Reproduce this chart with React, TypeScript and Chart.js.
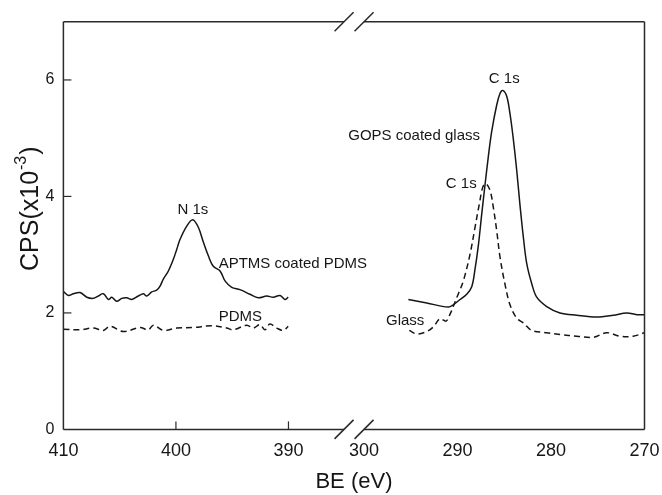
import React, { useEffect, useRef } from "react";
import { Chart, registerables } from "chart.js";

Chart.register(...registerables);

const FONT = "'Liberation Sans', Arial, Helvetica, sans-serif";
const INK = "#161616";

// Axis definition (broken binding-energy axis: 410-390 | 300-270)
const X_TICKS = [410, 400, 390, 300, 290, 280, 270];
const X_INNER_TICKS = [400, 390];
const Y_TICKS = [0, 2, 4, 6];
const BREAK_BE = 300;

// APTMS coated PDMS (solid)
const APTMS_BE = [410, 409.56, 409.11, 408.52, 407.92, 407.34, 406.89, 406.45, 406.0, 405.7, 405.26, 404.81, 404.37, 403.93, 403.34, 402.9, 402.59, 402.15, 401.71, 401.41, 401.12, 400.67, 400.23, 399.93, 399.64, 399.04, 398.51, 398.01, 397.57, 397.12, 396.68, 396.08, 395.64, 395.04, 394.31, 393.42, 392.68, 391.94, 391.35, 390.75, 390.31, 390.02];
const APTMS_CPS = [2.37, 2.30, 2.33, 2.35, 2.27, 2.25, 2.29, 2.33, 2.23, 2.27, 2.20, 2.25, 2.26, 2.23, 2.29, 2.33, 2.29, 2.36, 2.39, 2.46, 2.58, 2.72, 2.92, 3.09, 3.26, 3.49, 3.60, 3.47, 3.22, 2.98, 2.80, 2.72, 2.55, 2.44, 2.40, 2.32, 2.26, 2.29, 2.27, 2.30, 2.23, 2.27];

// PDMS (dashed)
const PDMS_BE = [410, 408.52, 407.34, 406.45, 405.85, 404.67, 403.19, 402.45, 402.0, 401.12, 399.93, 398.45, 396.68, 395.49, 394.9, 393.71, 393.13, 392.53, 392.09, 391.65, 391.05, 390.46, 390.02];
const PDMS_CPS = [1.72, 1.71, 1.74, 1.70, 1.77, 1.68, 1.75, 1.71, 1.79, 1.70, 1.74, 1.75, 1.78, 1.74, 1.71, 1.79, 1.74, 1.80, 1.71, 1.81, 1.74, 1.70, 1.77];

// GOPS coated glass (solid)
const GOPS_BE = [295.26, 293.29, 290.98, 290.45, 289.73, 289.02, 288.48, 288.13, 287.78, 287.41, 287.06, 286.71, 286.34, 285.81, 285.45, 285.17, 284.74, 284.39, 284.03, 283.67, 283.32, 282.96, 282.6, 282.06, 281.53, 280.46, 279.04, 277.25, 275.11, 273.34, 271.9, 270.83, 270];
const GOPS_CPS = [2.23, 2.17, 2.10, 2.14, 2.23, 2.32, 2.45, 2.75, 3.15, 3.70, 4.20, 4.68, 5.12, 5.57, 5.77, 5.82, 5.72, 5.42, 4.98, 4.45, 3.85, 3.30, 2.85, 2.50, 2.27, 2.11, 2.00, 1.96, 1.93, 1.96, 2.00, 1.97, 1.97];

// Glass (dashed)
const GLASS_BE = [295.16, 294.36, 293.29, 292.59, 291.87, 291.23, 290.8, 290.09, 289.38, 288.66, 288.13, 287.67, 287.3, 286.98, 286.52, 286.17, 285.81, 285.45, 284.92, 284.39, 283.67, 282.96, 282.06, 280.46, 279.04, 277.25, 275.48, 274.04, 272.62, 271.2, 270];
const GLASS_CPS = [1.70, 1.64, 1.68, 1.76, 1.90, 1.86, 1.98, 2.26, 2.55, 3.01, 3.47, 3.87, 4.16, 4.22, 4.10, 3.81, 3.41, 2.95, 2.49, 2.14, 1.91, 1.83, 1.70, 1.66, 1.63, 1.60, 1.58, 1.66, 1.60, 1.60, 1.66];

// Text annotations (BE, CPS of the text centre line)
const NOTE_TEXT = ["N 1s", "APTMS coated PDMS", "PDMS", "GOPS coated glass", "C 1s", "C 1s", "Glass"];
const NOTE_BE = [398.5, 396.2, 396.2, 287.6, 285.0, 289.6, 295.6];
const NOTE_CPS = [3.79, 2.86, 1.96, 5.06, 6.04, 4.24, 1.88];
const NOTE_ALIGN: CanvasTextAlign[] = ["center", "left", "left", "right", "center", "center", "center"];

// broken-axis transform: BE -> axis units (0..100)
const LEFT_END_U = 38.73;
const RIGHT_START_U = 51.74;
function toU(be: number): number {
  if (be > 340) return ((410 - be) / 20) * LEFT_END_U;
  return RIGHT_START_U + ((300 - be) / 30) * (100 - RIGHT_START_U);
}
function fromU(u: number): number {
  if (u < 45) return 410 - (u / LEFT_END_U) * 20;
  return 300 - ((u - RIGHT_START_U) / (100 - RIGHT_START_U)) * 30;
}

function pts(xs: number[], ys: number[]) {
  return xs.map((b, i) => ({ x: toU(b), y: ys[i] }));
}

const framePlugin = {
  id: "frame",
  afterDraw(chart: any) {
    const { ctx, chartArea } = chart;
    const { left, right, top, bottom } = chartArea;
    const xs = chart.scales.x;
    const ys = chart.scales.y;
    ctx.save();
    ctx.strokeStyle = "#2a2a2a";
    ctx.lineWidth = 1.5;
    const line = (x1: number, y1: number, x2: number, y2: number) => {
      ctx.beginPath();
      ctx.moveTo(x1, y1);
      ctx.lineTo(x2, y2);
      ctx.stroke();
    };
    const b2 = xs.getPixelForValue(toU(BREAK_BE));
    const b1 = b2 - 20;
    line(left, top, left, bottom);
    line(right, top, right, bottom);
    for (const yy of [top, bottom]) {
      line(left, yy, b1, yy);
      line(b2, yy, right, yy);
      for (const bx of [b1, b2]) line(bx - 9.5, yy + 9.5, bx + 9.5, yy - 9.5);
    }
    ctx.lineWidth = 1.2;
    Y_TICKS.forEach((v) => {
      if (v <= 0) return;
      const py = ys.getPixelForValue(v);
      line(left, py, left + 8, py);
    });
    X_INNER_TICKS.forEach((v) => {
      const px = xs.getPixelForValue(toU(v));
      line(px, bottom, px, bottom - 8);
    });

    // y axis title with superscript
    ctx.fillStyle = INK;
    ctx.save();
    ctx.translate(38, 271);
    ctx.rotate(-Math.PI / 2);
    ctx.textAlign = "left";
    ctx.textBaseline = "alphabetic";
    ctx.font = `25px ${FONT}`;
    const main = "CPS(x10";
    ctx.fillText(main, 0, 0);
    let w = ctx.measureText(main).width;
    ctx.font = `16px ${FONT}`;
    const sup = "-3";
    ctx.fillText(sup, w + 1, -12);
    w += ctx.measureText(sup).width + 2;
    ctx.font = `25px ${FONT}`;
    ctx.fillText(")", w, 0);
    ctx.restore();

    // annotations
    ctx.font = `15px ${FONT}`;
    ctx.textBaseline = "alphabetic";
    NOTE_TEXT.forEach((t, i) => {
      ctx.textAlign = NOTE_ALIGN[i];
      const px = xs.getPixelForValue(toU(NOTE_BE[i]));
      const py = ys.getPixelForValue(NOTE_CPS[i]);
      ctx.fillText(t, px, py + 5.4);
    });
    ctx.restore();
  },
};

export default function App() {
  const ref = useRef<HTMLCanvasElement | null>(null);
  useEffect(() => {
    if (!ref.current) return;
    const lineDs = (data: any[], dashed: boolean) => ({
      data,
      showLine: true,
      borderColor: INK,
      borderWidth: 1.5,
      borderDash: dashed ? [6, 4] : [],
      pointRadius: 0,
      tension: 0.35,
      fill: false,
    });
    const chart = new Chart(ref.current, {
      type: "scatter",
      data: {
        datasets: [
          lineDs(pts(APTMS_BE, APTMS_CPS), false),
          lineDs(pts(PDMS_BE, PDMS_CPS), true),
          lineDs(pts(GOPS_BE, GOPS_CPS), false),
          lineDs(pts(GLASS_BE, GLASS_CPS), true),
        ],
      },
      options: {
        animation: false,
        responsive: true,
        maintainAspectRatio: false,
        layout: { padding: { left: 36.5, right: 17.5, top: 21.7, bottom: 0 } },
        plugins: { legend: { display: false }, tooltip: { enabled: false } },
        scales: {
          x: {
            type: "linear",
            min: 0,
            max: 100,
            afterBuildTicks: (s: any) => {
              s.ticks = X_TICKS.map((v) => ({ value: toU(v) }));
            },
            afterFit: (s: any) => {
              s.paddingLeft = 0;
              s.paddingRight = 0;
            },
            ticks: {
              autoSkip: false,
              maxRotation: 0,
              padding: 11.3,
              color: INK,
              font: { family: FONT, size: 18 },
              callback: (v: any) => String(Math.round(fromU(Number(v)))),
            },
            grid: { display: false, drawTicks: false },
            border: { display: false },
            title: {
              display: true,
              text: "BE (eV)",
              color: INK,
              font: { family: FONT, size: 22 },
              padding: { top: -5, bottom: 0 },
            },
          },
          y: {
            min: 0,
            max: 7,
            afterBuildTicks: (s: any) => {
              s.ticks = Y_TICKS.map((v) => ({ value: v }));
            },
            ticks: { padding: 9, color: INK, font: { family: FONT, size: 16 } },
            grid: { display: false, drawTicks: false },
            border: { display: false },
          },
        },
      },
      plugins: [framePlugin],
    });
    return () => chart.destroy();
  }, []);
  return (
    <div style={{ position: "fixed", left: 0, top: 0, width: 662, height: 495 }}>
      <canvas ref={ref} />
    </div>
  );
}
